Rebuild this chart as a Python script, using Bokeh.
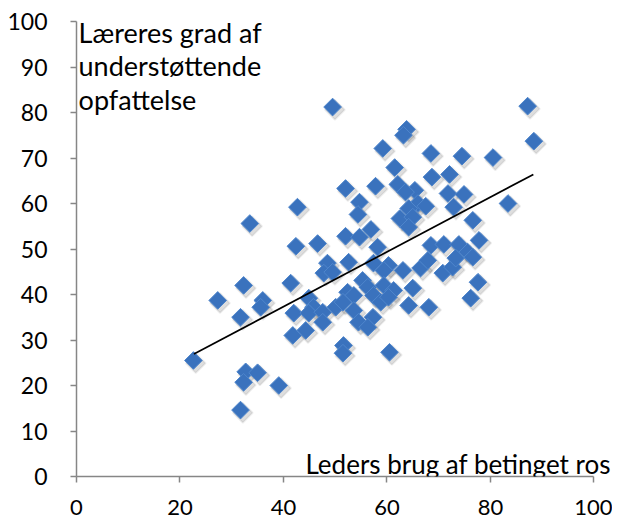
import numpy as np
from bokeh.plotting import figure
from bokeh.models import FixedTicker, Label, Range1d
from bokeh.embed import file_html
from bokeh.resources import INLINE

# Leders brug af betinget ros (x) vs. Læreres grad af understøttende opfattelse (y)
ros = [49.5, 42.7, 33.5, 46.6, 42.4, 87.2, 88.4, 63.8, 63.2, 59.2,
       68.5, 74.5, 80.5, 61.5, 68.7, 72.1, 52.0, 57.8, 62.1, 65.4,
       63.6, 71.8, 74.9, 54.7, 54.4, 66.0, 67.5, 64.2, 72.9, 62.5,
       65.0, 64.2, 83.4, 76.6, 56.9, 52.0, 54.7, 58.2, 77.8, 68.5,
       71.0, 73.9, 75.6, 22.6, 32.3, 27.3, 36.0, 35.6, 31.7, 41.4,
       32.7, 35.0, 32.3, 39.1, 31.7, 42.0, 41.8, 44.3, 44.9, 45.8,
       44.9, 47.6, 47.6, 50.1, 48.5, 47.8, 49.5, 52.6, 57.4, 60.3,
       59.4, 63.1, 66.5, 67.9, 70.8, 72.7, 73.3, 76.6, 77.6, 76.2,
       55.3, 56.3, 59.4, 61.3, 65.0, 52.4, 53.6, 57.4, 58.8, 60.3,
       64.2, 68.1, 51.5, 53.6, 57.3, 54.5, 56.3, 51.6, 51.5, 60.5]
opfattelse = [81.2, 59.2, 55.6, 51.2, 50.6, 81.4, 73.7, 76.3, 75.0, 72.1,
              71.0, 70.4, 70.1, 67.9, 65.8, 66.4, 63.3, 63.8, 64.2, 62.9,
              62.5, 62.2, 62.0, 60.3, 57.6, 60.0, 59.4, 58.9, 59.2, 56.7,
              57.0, 54.8, 60.0, 56.3, 54.3, 52.8, 52.6, 50.4, 51.9, 50.8,
              51.0, 51.0, 49.3, 25.5, 42.0, 38.7, 38.7, 37.2, 35.0, 42.5,
              23.0, 22.8, 20.7, 20.0, 14.6, 35.9, 31.0, 32.1, 39.2, 37.2,
              35.9, 36.1, 33.9, 37.2, 46.9, 44.7, 44.9, 47.1, 46.9, 46.4,
              45.3, 45.3, 45.8, 47.5, 44.7, 46.0, 48.0, 48.2, 42.7, 39.2,
              43.1, 41.6, 42.0, 40.9, 41.4, 40.5, 39.8, 39.8, 38.3, 39.4,
              37.6, 37.2, 38.3, 36.5, 35.0, 33.9, 32.8, 28.8, 27.1, 27.3]

trend_x = [22.7, 88.3]
trend_y = [26.9, 66.4]

x_ticks = [0, 20, 40, 60, 80, 100]
y_ticks = [0, 10, 20, 30, 40, 50, 60, 70, 80, 90, 100]

y_label_lines = ["Læreres grad af", "understøttende", "opfattelse"]
x_label = "Leders brug af betinget ros"

FONT = "Lato"
AXIS_COL = "#868686"
PX_X = 5.17   # px per x unit
PX_Y = 4.55   # px per y unit
X_END = 103.6

p = figure(frame_width=int(round(X_END * PX_X)), frame_height=int(round(100 * PX_Y)),
           output_backend="svg", toolbar_location=None,
           x_range=Range1d(0, X_END), y_range=Range1d(0, 100),
           min_border_left=76, min_border_right=0, min_border_top=21, min_border_bottom=44)
p.outline_line_color = None
p.grid.visible = False
p.background_fill_color = "white"
p.border_fill_color = "white"

for ax in (p.xaxis, p.yaxis):
    ax.axis_line_color = AXIS_COL
    ax.axis_line_width = 1.5
    ax.major_tick_line_color = AXIS_COL
    ax.major_tick_line_width = 1.5
    ax.major_tick_out = 6
    ax.major_tick_in = 0
    ax.minor_tick_line_color = None
    ax.major_label_text_font = FONT
    ax.major_label_text_color = "black"

p.xaxis.major_label_text_font_size = "22px"
p.yaxis.major_label_text_font_size = "23px"
p.xaxis.ticker = FixedTicker(ticks=x_ticks)
p.yaxis.ticker = FixedTicker(ticks=y_ticks)
p.xaxis.bounds = (0, 100)
p.yaxis.bounds = (0, 100)
p.xaxis.major_label_standoff = 17
p.yaxis.major_label_standoff = 23

# shadows
sx = [v + 0.45 for v in ros]
sy = [v - 0.6 for v in opfattelse]
p.scatter(sx, sy, marker="square", size=14, angle=np.pi / 4,
          fill_color="black", fill_alpha=0.13, line_color="black", line_alpha=0.06, line_width=2)
p.scatter(ros, opfattelse, marker="square", size=12.5, angle=np.pi / 4,
          fill_color="#3A72BD", line_color="#4F86CC", line_width=1)

p.line(trend_x, trend_y, line_color="black", line_width=1.7)

label_y = [97.6, 90.3, 82.8]
for txt, yy in zip(y_label_lines, label_y):
    p.add_layout(Label(x=0.4, y=yy, text=txt, text_font=FONT, text_font_size="27px",
                       text_baseline="alphabetic", text_align="left", text_color="black"))

p.add_layout(Label(x=103.3, y=2.7, text=x_label, text_font=FONT, text_font_size="26px",
                   text_baseline="alphabetic", text_align="right", text_color="black"))

open("out.html", "w").write(file_html(p, INLINE))
